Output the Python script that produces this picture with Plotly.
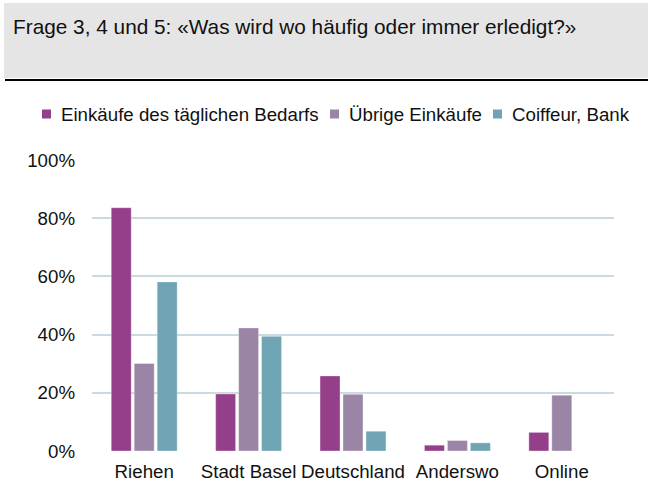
import plotly.graph_objects as go

categories = ["Riehen", "Stadt Basel", "Deutschland", "Anderswo", "Online"]
series_names = ["Einkäufe des täglichen Bedarfs", "Übrige Einkäufe", "Coiffeur, Bank"]
taeglich = [83.6, 19.6, 25.8, 2.0, 6.4]
uebrige = [30.1, 42.3, 19.5, 3.6, 19.2]
coiffeur = [58.1, 39.4, 6.8, 2.8, None]
colors = ["#953F8A", "#9B85A7", "#6FA4B4"]
title_text = "Frage 3, 4 und 5: «Was wird wo häufig oder immer erledigt?»"

W, H = 648, 495
L, R, T, B = 92, 34, 160, 44
FONT = "Liberation Sans, Arial, sans-serif"
FS = 18.7

fig = go.Figure()
for name, vals, col in zip(series_names, [taeglich, uebrige, coiffeur], colors):
    fig.add_trace(go.Bar(
        x=categories, y=vals, name=name, showlegend=False,
        marker=dict(color=col, line=dict(color="rgba(255,255,255,0.35)", width=1)),
    ))

def px_x(px):
    return (px - L) / (W - L - R)

def px_y(py):
    return (H - B - py) / (H - T - B)

# header box
fig.add_shape(type="rect", xref="paper", yref="paper",
              x0=px_x(4), x1=px_x(648), y0=px_y(78), y1=px_y(3),
              fillcolor="#E5E5E5", line=dict(width=0), layer="below")
fig.add_shape(type="rect", xref="paper", yref="paper",
              x0=px_x(5), x1=px_x(648), y0=px_y(81), y1=px_y(79),
              fillcolor="#000000", line=dict(width=0))
fig.add_annotation(text=title_text, xref="paper", yref="paper",
                   x=px_x(11), y=px_y(26.5), xanchor="left", yanchor="middle",
                   showarrow=False, font=dict(family=FONT, size=20.8, color="#111111"))

# legend (swatch + label per series)
legend_square_left = [42, 330, 493]
for name, col, lx in zip(series_names, colors, legend_square_left):
    fig.add_shape(type="rect", xref="paper", yref="paper",
                  x0=px_x(lx), x1=px_x(lx + 9), y0=px_y(118.5), y1=px_y(109.5),
                  fillcolor=col, line=dict(width=0))
    fig.add_annotation(text=name, xref="paper", yref="paper",
                       x=px_x(lx + 17), y=px_y(114.5), xanchor="left", yanchor="middle",
                       showarrow=False, font=dict(family=FONT, size=FS, color="#111111"))

fig.update_layout(
    width=W, height=H,
    margin=dict(l=L, r=R, t=T, b=B, autoexpand=False),
    paper_bgcolor="white", plot_bgcolor="white",
    font=dict(family=FONT, size=FS, color="#111111"),
    barmode="group", bargap=0.34, bargroupgap=0.13,
    showlegend=False,
    xaxis=dict(showgrid=False, showline=False, ticks="", tickfont=dict(size=FS),
               ticklabelstandoff=7),
    yaxis=dict(range=[0, 100], dtick=20, ticksuffix="%", showgrid=True,
               gridcolor="#C9DAE0", gridwidth=1.5, zeroline=False, showline=False,
               ticks="", tickfont=dict(size=FS), ticklabelstandoff=16),
)

fig.write_html("out.html", config={"displayModeBar": False},
               post_script="document.body.style.margin='0';document.body.style.padding='0';")
